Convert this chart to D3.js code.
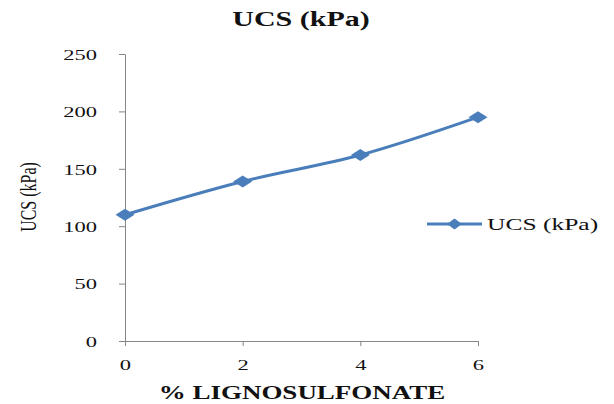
<!DOCTYPE html>
<html>
<head>
<meta charset="utf-8">
<script src="https://cdn.jsdelivr.net/npm/d3@7"></script>
<style>
  html, body { margin: 0; padding: 0; background: #fff; }
  svg { display: block; }
  svg text { font-family: "Liberation Serif", "Times New Roman", serif; }
</style>
</head>
<body>
<svg id="chart" width="614" height="404"></svg>
<script>
// UCS of soil treated with lignosulfonate
const lignosulfonate = [0, 2, 4, 6];
const ucsValues = [110, 139, 162, 195];
const yTicks = [0, 50, 100, 150, 200, 250];
const xTicks = [0, 2, 4, 6];
const seriesName = "UCS (kPa)";
const chartTitle = "UCS (kPa)";
const xTitle = "% LIGNOSULFONATE";
const yTitle = "UCS (kPa)";

const blue = "#4a7ebb";
const axisGrey = "#868686";
const serif = "Liberation Serif";
const stretch = 1.5; // wide lettering used throughout

const svg = d3.select("#chart");
const plot = { left: 125, right: 478, top: 54, bottom: 341 };

const x = d3.scaleLinear().domain([0, 6]).range([plot.left, plot.right]);
const y = d3.scaleLinear().domain([0, 250]).range([plot.bottom, plot.top]);

// Axes
const yAxis = svg.append("g")
  .attr("transform", `translate(${plot.left},0)`)
  .call(d3.axisLeft(y).tickValues(yTicks).tickFormat(d3.format("d"))
    .tickSize(6).tickSizeOuter(0).tickPadding(0));
yAxis.attr("font-family", serif);
yAxis.select(".domain").attr("stroke", axisGrey);
yAxis.selectAll(".tick line").attr("stroke", axisGrey);
yAxis.selectAll(".tick text")
  .attr("x", -28 / stretch)
  .attr("dy", "0.35em")
  .attr("transform", `scale(${stretch},1)`)
  .attr("font-size", 15)
  .attr("fill", "#111");

const xAxis = svg.append("g")
  .attr("transform", `translate(0,${plot.bottom})`)
  .call(d3.axisBottom(x).tickValues(xTicks).tickFormat(d3.format("d"))
    .tickSize(5).tickSizeOuter(0));
xAxis.attr("font-family", serif);
xAxis.select(".domain").attr("stroke", axisGrey);
xAxis.selectAll(".tick line").attr("stroke", axisGrey);
xAxis.selectAll(".tick text")
  .attr("y", 29)
  .attr("dy", 0)
  .attr("transform", `scale(${stretch},1)`)
  .attr("font-size", 15)
  .attr("fill", "#111");

// Series line (smoothed)
const line = d3.line()
  .x((d, i) => x(lignosulfonate[i]))
  .y(d => y(d))
  .curve(d3.curveCatmullRom.alpha(0.5));

svg.append("path")
  .datum(ucsValues)
  .attr("d", line)
  .attr("fill", "none")
  .attr("stroke", blue)
  .attr("stroke-width", 3)
  .attr("stroke-linejoin", "round");

// Diamond markers
function diamond(hw, hh) {
  return `M0,${-hh}L${hw},0L0,${hh}L${-hw},0Z`;
}
svg.append("g").selectAll("path")
  .data(ucsValues)
  .join("path")
  .attr("transform", (d, i) => `translate(${x(lignosulfonate[i])},${y(d)})`)
  .attr("d", diamond(9.5, 6))
  .attr("fill", blue);

// Title
svg.append("text")
  .attr("transform", `translate(301,26) scale(${stretch},1)`)
  .attr("text-anchor", "middle")
  .attr("font-family", serif)
  .attr("font-weight", "bold")
  .attr("font-size", 20)
  .attr("fill", "#111")
  .text(chartTitle);

// Axis titles
svg.append("text")
  .attr("transform", `translate(302,399) scale(${stretch},1)`)
  .attr("text-anchor", "middle")
  .attr("font-family", serif)
  .attr("font-weight", "bold")
  .attr("font-size", 18)
  .attr("fill", "#111")
  .text(xTitle);

svg.append("text")
  .attr("transform", `translate(36,197) scale(${stretch},1) rotate(-90)`)
  .attr("text-anchor", "middle")
  .attr("font-family", serif)
  .attr("font-size", 16)
  .attr("fill", "#111")
  .text(yTitle);

// Legend
const legend = svg.append("g").attr("transform", "translate(427,224)");
legend.append("line")
  .attr("x1", 0).attr("x2", 55)
  .attr("stroke", blue).attr("stroke-width", 3);
legend.append("path")
  .attr("transform", "translate(27.5,0)")
  .attr("d", diamond(7.5, 5.5))
  .attr("fill", blue);
legend.append("text")
  .attr("transform", `translate(60,6) scale(${stretch},1)`)
  .attr("font-family", serif)
  .attr("font-size", 17)
  .attr("fill", "#111")
  .text(seriesName);
</script>
</body>
</html>
